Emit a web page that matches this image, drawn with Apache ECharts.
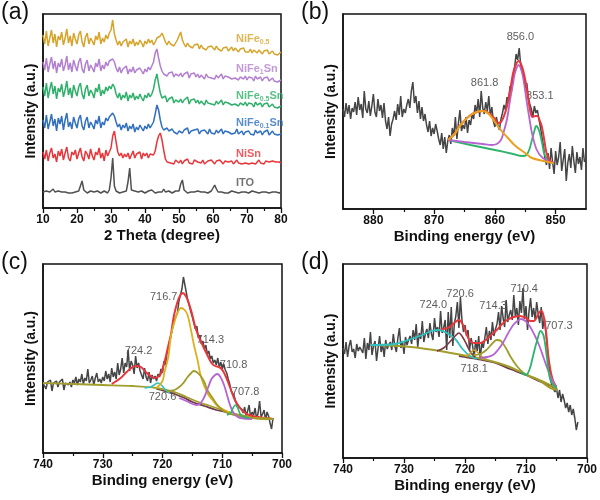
<!DOCTYPE html>
<html>
<head>
<meta charset="utf-8">
<script src="https://cdn.jsdelivr.net/npm/echarts@6/dist/echarts.min.js"></script>
<style>html,body{margin:0;background:#fff}#main{width:600px;height:500px}</style>
</head>
<body>
<div id="main"></div>
<script>
// ---------- (a) XRD, 2 theta from 10 to 80, step 0.5 ----------
var xrdStart = 10, xrdStep = 0.5;
var xrdITO = [16,15,17,15,16,17,19,16,15,17, 15,16,14,16,17,15,16,15,17,16, 15,17,19,27,18,16,15,16,17,15,
  16,15,17,16,15,16,17,16,15,18, 30,50,22,17,16,15,17,16,16,17, 26,40,18,16,17,19,16,15,17,16,
  15,16,17,16,18,16,15,17,16,17, 16,19,16,15,17,16,15,16,17,16, 17,24,28,18,16,15,17,16,15,16,
  16,17,18,16,15,16,17,15,16,17, 18,23,19,16,15,16,17,15,16,15, 16,17,15,16,16,15,17,16,15,16,
  16,15,16,17,15,16,16,15,17,16, 15,16,17,15,16,16,15,16,17,15, 16];
var xrdNiSn = [56,49,58,47,55,60,50,54,46,57, 52,59,48,55,61,50,47,56,53,58, 49,55,60,51,47,57,54,49,59,52,
  48,56,53,60,50,55,47,58,52,56, 60,72,77,66,56,52,55,50,54,51, 55,49,53,57,50,54,52,56,49,55,
  52,55,50,54,56,53,57,66,72,75, 68,58,49,46,48,45,47,44,48,46, 45,48,44,47,46,49,45,47,44,48,
  49,46,47,45,48,44,46,47,45,48, 46,44,47,45,48,46,44,47,49,46, 45,47,44,46,48,45,47,44,46,45,
  47,44,46,45,47,44,46,48,45,46, 44,47,45,46,44,47,45,46,44,46, 45];
var xrdFe01 = [88,80,93,79,86,94,82,89,77,90, 84,92,78,88,95,81,86,79,91,85, 80,89,93,82,78,87,91,80,86,83,
  79,88,84,92,80,86,83,90,87,91, 89,95,92,86,81,84,78,83,80,85, 77,82,79,84,76,81,78,83,80,77,
  82,79,84,80,83,86,94,103,98,88, 81,78,76,80,77,75,79,76,78,74, 77,79,75,78,76,80,74,77,75,78,
  76,79,74,77,75,78,76,74,79,75, 77,74,78,75,76,79,74,77,75,76, 78,74,76,75,79,74,76,77,73,76,
  75,77,74,76,73,78,75,74,77,73, 76,74,78,73,75,77,74,76,73,75, 74];
var xrdFe05Sn = [121,112,125,110,119,126,114,122,109,120, 116,124,111,118,127,113,120,110,123,117,
  112,121,125,114,109,119,123,112,118,115, 110,120,116,124,112,118,114,121,117,122,
  119,124,121,114,110,115,108,113,110,116, 107,113,110,115,108,112,109,114,110,107,
  113,110,115,111,114,119,128,134,124,115, 110,108,112,106,109,107,111,105,108,110,
  106,109,105,108,107,111,104,108,106,109, 105,108,104,107,106,103,108,105,107,104,
  106,103,107,104,105,108,103,106,104,105, 107,103,105,104,106,102,105,104,103,106,
  102,105,103,104,101,106,103,102,105,101, 104,102,105,101,103,104,101,103,100,102, 102];
var xrdFe1Sn = [146,138,150,136,144,151,139,147,135,145, 141,149,137,143,152,138,145,136,148,142,
  137,146,150,139,135,144,148,137,143,140, 136,145,141,149,137,143,139,146,142,147,
  145,149,146,140,136,141,135,139,137,142, 134,139,136,141,135,138,136,140,137,134,
  139,136,141,138,140,146,155,159,150,142, 137,134,136,132,135,133,136,131,134,135,
  132,135,131,134,133,136,130,134,132,135, 131,134,130,133,132,129,134,131,133,130,
  132,129,133,130,131,134,129,132,130,131, 133,129,131,130,132,128,131,130,129,132,
  128,131,129,130,127,132,129,128,131,127, 130,128,131,127,129,130,127,129,126,128, 128];
var xrdFe05 = [173,164,177,162,170,178,165,174,161,172, 168,176,163,170,179,165,172,162,175,169,
  164,173,177,166,161,171,175,164,170,167, 163,172,168,176,164,170,166,173,169,175,
  178,188,174,168,163,167,162,166,164,169, 161,167,164,169,162,166,163,168,165,161,
  167,164,169,165,168,163,166,170,168,172, 175,171,166,163,167,164,166,162,165,168,
  170,176,168,164,161,165,162,164,160,163, 161,164,159,163,160,162,158,161,159,162,
  160,158,162,159,161,157,160,158,161,157, 159,161,157,160,158,156,159,157,160,156,
  158,156,159,155,158,157,155,158,156,154, 157,155,158,154,156,157,154,156,153,155, 156];
var xrdNames = ['ITO', 'NiSn', 'NiFe{s|0.1}Sn', 'NiFe{s|0.5}Sn', 'NiFe{s|1}Sn', 'NiFe{s|0.5}'];
var xrdLabelPos = [[66.6, 25], [66.6, 54], [66.6, 85], [66.6, 112], [66.6, 139], [66.6, 169]];

// ---------- (b) Ni 2p, from 885 down to 845, step 0.25 ----------
var niStart = 885, niStep = -0.25;
var niRaw = [100,92,106,95,104,90,101,97,107, 94,112,99,105,91,118,100,96,
  108,93,103,115,97,92,110,98,104,91,106, 88,80,92,73,85,90, 98,89,105,94,113,92,100,96,104,
  110,101,118,127,106,113, 96,108,90,102,88,95, 84,77,88,73,81,75,85,78, 70,64,76,60,72,56,68,74,
  65,81,73,92,70,86,99,78,84, 80,92,76,89,84,95, 90,104,96,110,92,118,101,95,107,98,113,93,102,
  88,82,92,84,79,90, 96,104,99,112,108,123,118, 131,142,155,149,161,144,138, 132,121,126,112,105,
  100,92,103,96,99,90, 82,72,63,50,44,
  56,40,61,47,35,58,44,52,67,38,49,60,28,46,55,41,63,48,36,57,45,52,39,61,47,50];
var niFitSum = [[867.7,69],[866.5,76],[865.8,83],[864.2,93],[863,97],[861.8,98],[861,96],[860,90],[859.5,86],
  [859,87],[858.5,93],[858,103],[857.5,118],[857,136],[856.5,145],[856.1,148],[855.7,145],[855.2,135],
  [854.7,118],[854.2,99],[853.8,92],[853.3,93],[853,93],[852.6,88],[852.3,83],[851.9,70],[851.5,56],[851,49],[850.4,46]];
var niFit8618 = [[867.7,69],[866.5,76],[865.8,83],[864.2,93],[863,97],[862.1,98],[861,95],[859.3,81],[858,72],
  [856.6,63],[855,56],[853.9,51],[852,48],[850.4,46]];
var niFit8560 = [[867.7,69],[865,67],[862,65],[860.5,64],[859.7,65],[859,69],[858.6,76],[858,90],[857.5,109],
  [857,126],[856.7,136],[856.1,144],[855.6,138],[855.2,126],[854.8,109],[854.3,90],[853.9,76],[853.1,59],[852.1,51],[850.4,46]];
var niFit8531 = [[867.7,69],[864,64],[860,59],[857,55],[855.5,53],[854.8,54],[854.3,60],[853.9,69],[853.5,78],
  [853.2,83],[852.9,81],[852.6,76],[852.2,65],[851.8,54],[851,48],[850.4,46]];
var niPeakLabels = [['856.0', 855.8, 172], ['861.8', 861.7, 126], ['853.1', 852.6, 113]];

// ---------- (c) Fe 2p, from 740 down to 701.5, step 0.25 ----------
var fecStart = 740, fecStep = -0.25;
var fecRaw = [70,72,64,71,69,73,62,70,68,72,66,71,69,74,63,70,72,68,71,66,
  73,70,76,68,74,71,79,69,75,72,84,70,73,77,68,75,80,71,74,70,
  76,72,82,74,79,71,85,76,81,74,90,78, 84,95,80,90,86,103,82,92,88,79,97,85,90,82,
  80,74,85,76,72,81,70,78,74,77,72,79, 76,84,80,92,88,100,106,113, 120,127,133,131,140,
  152,158,164,176,168,160, 152,147,141,136, 130,124,127,115,118,109, 112,104,108,99,102,94,97,90,
  93,88,95,86,91,84,89,83, 80,74,69,62,60, 57,51,53,46,48,
  44,40,46,37,42,48,35,41,38,45,34,40,52,36,39,43,33,41,37, 30,24,35];
var fecBase = [[740,70],[735,69],[730,68],[725,67],[721,65],[718,61],[716,56],[714,51],[712,47],[710,43],[708,39],[705,36],[701.5,34]];
var fecShirley = [[721,64],[719.7,62],[718,59],[716.3,55],[715,51],[713,47],[711,43],[710,42],[708,39],[706.6,37],[704,35],[701.5,34]];
var fecFit7206 = [[723,65],[722,66],[721.4,68],[720.8,70],[720.2,68],[719.5,63],[718.8,60]];
var fecFit7167 = [[721,65],[720,72],[719.7,80],[719,97],[718.6,117],[718,131],[717.5,140],[716.9,145],[716.3,143],
  [715.8,138],[715.2,122],[714.7,107],[714.1,92],[713.6,77],[712.5,60],[711.5,52],[710.8,47],[709,41],[708,38],[705,35],[701.5,34]];
var fecFit7143 = [[719.2,62],[718,63],[717.2,66],[716.5,70],[715.8,76],[715.2,80],[714.8,82],[714.3,81],[713.6,77],
  [713,71],[712.5,63],[711.5,54],[710.8,48],[709.5,41],[708,38],[705,35],[701.5,34]];
var fecFit7108 = [[717.2,55],[716,52],[715,49],[714.3,48],[713.6,50],[713,56],[712.4,65],[711.8,74],[711.2,78],
  [710.8,79],[710.3,76],[709.7,68],[709.2,58],[708.7,48],[708.2,41],[707.6,37],[707,35],[705,34]];
var fecFit7078 = [[709.2,38],[708.6,40],[708.2,45],[707.8,48],[707.4,45],[707,39],[706.4,36],[705.5,35]];
var fecFitSum = [[728.5,69],[727,75],[726,81],[725,86],[724.3,87],[723.6,86],[722.8,81],[722,77],[721.4,75],[720.8,76],
  [720.3,79],[719.7,90],[719,108],[718.6,118],[718.1,137],[717.5,151],[717,158],[716.6,160],[716.1,157],[715.6,150],
  [715.1,140],[714.6,128],[714,117],[713.3,108],[712.5,98],[711.8,90],[711.2,87],[710.6,86],[710.1,84],[709.6,79],
  [709.1,72],[708.6,64],[708.1,56],[707.6,50],[707,45],[706.4,41],[705.5,38],[704,36],[701.5,34]];
var fecPeakLabels = [['716.7', 719.8, 156], ['714.3', 712.0, 113], ['724.2', 724.0, 102],
  ['710.8', 708.1, 88], ['720.6', 720.0, 56], ['707.8', 706.1, 61]];

// ---------- (d) Fe 2p, from 740 down to 701.5, step 0.25 ----------
var fedStart = 740, fedStep = -0.25;
var fedRaw = [110,104,116,101,112,118,106,109,100,114,107,111,
  113,105,120,99,115,108,126,103,112,117,97,110,122,106,114,101,118,109,113,
  116,108,124,112,106,120,130,110,117,104,121,113,118, 122,114,128,118,134,111,125,119,137,116,124,
  129,120,135,124,118,140,126,131,121,147,125,130, 138,108,146,120,151,112,134, 142,156,130,161,138,126,133,
  122,128,108,120, 112,101,118,107,122,98,116,110, 120,131,114,127,118,136,122,129,
  134,146,128,152,140,131,158,136,143,148, 138,163,142,150,133,157,145,170,139,152,128,147,160,141,
  150,138,156,144,135,151,129,140, 126,110,92,80,72, 74,66,70,60,68,56,64, 58,50,55,46,53,43,49, 40,28,36];
var fedBase = [[735.5,113],[730.6,112],[725.1,108],[719.7,102],[716.4,98],[713.1,92],[709.8,83],[707.7,77],[706,70],[704.9,68]];
var fedShirley = [[721,102],[718,99],[715,95],[712.6,89],[710,83],[707.5,76],[705,70]];
var fedFit7240 = [[735.5,113],[731.5,114],[729.3,118],[727,123],[725.5,127],[724.3,128],[723,125],[721.6,119],
  [720.4,109],[719.2,102],[718,99]];
var fedFit7206 = [[724.6,107],[723.5,110],[722.5,116],[721.6,122],[721,125],[720.4,121],[719.7,113],[719,105],[718.3,101]];
var fedFit7181 = [[720,102],[719.2,104],[718.6,108],[718,106],[717.2,101],[716.5,99]];
var fedFit7143 = [[718.6,103],[717.5,104],[716.5,108],[715.6,114],[714.8,118],[714.1,117],[713.3,110],[712.5,101],
  [711.5,92],[710.4,85],[709.5,82],[708.5,80],[707,76],[705.5,71],[704.9,68]];
var fedFit7104 = [[717.5,100],[716.4,101],[715.4,103],[714.6,108],[713.8,115],[713,124],[712.1,133],[711.4,137],
  [710.8,139],[710.1,137],[709.4,132],[708.6,123],[707.8,112],[707.1,100],[706.4,88],[705.7,78],[705,70]];
var fedFit7073 = [[710.8,86],[710,83],[709.4,89],[709,98],[708.6,108],[708.2,117],[707.6,127],[707.1,122],
  [706.6,102],[706,78],[705,70]];
var fedFitSum = [[724.3,128],[723.5,129],[722.5,131],[721.6,136],[721,138],[720.4,134],[719.8,125],[719.2,117],
  [718.5,115],[717.5,115],[716.6,118],[715.9,122],[714.8,128],[713.9,134],[713.1,138],[712,141],[711,142],[710,140],
  [709.3,137],[708.7,137],[708.3,140],[707.9,145],[707.5,147],[707.2,144],[706.9,135],[706.6,120],[706.4,105],
  [706,88],[705.6,78],[705,71]];
var fedPeakLabels = [['724.0', 725.2, 153], ['720.6', 720.8, 164], ['714.3', 715.4, 152],
  ['710.4', 710.3, 169], ['707.3', 704.6, 132], ['718.1', 718.5, 89]];

// ---------- helpers ----------
var FONT = 'Liberation Sans, Arial, sans-serif';
function toPairs(start, step, ys) {
    return ys.map(function (y, i) { return [+(start + step * i).toFixed(2), y]; });
}
function line(data, color, width, idx, smooth) {
    return {
        type: 'line', data: data, xAxisIndex: idx, yAxisIndex: idx,
        symbol: 'none', smooth: smooth ? 0.35 : false, silent: true,
        lineStyle: { color: color, width: width }
    };
}
function peakLabels(list, idx) {
    return {
        type: 'scatter', xAxisIndex: idx, yAxisIndex: idx, symbolSize: 1, silent: true,
        itemStyle: { color: 'rgba(0,0,0,0)' },
        label: { show: true, position: 'inside', color: '#333', fontSize: 11, fontFamily: FONT, formatter: '{b}' },
        data: list.map(function (p) { return { name: p[0], value: [p[1], p[2]] }; })
    };
}
function xAx(idx, min, max, inverse, name) {
    return {
        gridIndex: idx, type: 'value', min: min, max: max, interval: 10, inverse: inverse,
        name: name, nameLocation: 'middle', nameGap: 20,
        nameTextStyle: { fontSize: 15, fontWeight: 'bold', color: '#111', fontFamily: FONT },
        axisLine: { show: true, lineStyle: { color: '#111', width: 1.5 } },
        axisTick: { show: true, length: 5, lineStyle: { color: '#111', width: 1.3 } },
        minorTick: { show: true, splitNumber: 2, length: 3, lineStyle: { color: '#111', width: 1.2 } },
        axisLabel: { color: '#111', fontSize: 12, fontWeight: 'bold', fontFamily: FONT, margin: 6 },
        splitLine: { show: false }
    };
}
function yAx(idx, max) {
    return {
        gridIndex: idx, type: 'value', min: 0, max: max,
        name: 'Intensity (a.u.)', nameLocation: 'middle', nameGap: 5,
        nameTextStyle: { fontSize: 14, fontWeight: 'bold', color: '#111', fontFamily: FONT },
        axisLine: { show: true, lineStyle: { color: '#111', width: 1.5 } },
        axisTick: { show: false }, axisLabel: { show: false }, splitLine: { show: false }
    };
}

var gridStyle = { show: true, borderColor: '#111', borderWidth: 1.5, backgroundColor: '#fff' };
var grids = [
    Object.assign({ left: 43, top: 14, width: 238, height: 194 }, gridStyle),
    Object.assign({ left: 343, top: 14, width: 243, height: 195 }, gridStyle),
    Object.assign({ left: 43, top: 264, width: 239, height: 189 }, gridStyle),
    Object.assign({ left: 343, top: 264, width: 244, height: 194 }, gridStyle)
];

var xAxes = [
    xAx(0, 10, 80, false, '2 Theta (degree)'),
    xAx(1, 845, 885, true, 'Binding energy (eV)'),
    xAx(2, 700, 740, true, 'Binding energy (eV)'),
    xAx(3, 700, 740, true, 'Binding energy (eV)')
];
// (b) range does not start on a multiple of 10: use custom ticks
xAxes[1].interval = 5;
xAxes[1].minorTick = { show: false };
xAxes[1].axisLabel.customValues = [850, 860, 870, 880];
xAxes[1].axisTick.customValues = [850, 860, 870, 880];
xAxes.push({
    gridIndex: 1, type: 'value', min: 845, max: 885, inverse: true, position: 'bottom',
    axisLine: { show: false }, axisLabel: { show: false }, splitLine: { show: false },
    axisTick: { show: true, length: 3, customValues: [855, 865, 875], lineStyle: { color: '#111', width: 1.2 } }
});

var yAxes = [yAx(0, 194), yAx(1, 195), yAx(2, 189), yAx(3, 194)];

var xrdColors = ['#505050', '#E8363B', '#3170BE', '#2FB06A', '#B37FCF', '#D6A42A'];
var xrdSets = [xrdITO, xrdNiSn, xrdFe01, xrdFe05Sn, xrdFe1Sn, xrdFe05];

var series = [];
xrdSets.forEach(function (ys, i) {
    series.push(line(toPairs(xrdStart, xrdStep, ys), xrdColors[i], 1.5, 0, false));
});
series.push({
    type: 'scatter', xAxisIndex: 0, yAxisIndex: 0, symbolSize: 1, silent: true,
    itemStyle: { color: 'rgba(0,0,0,0)' },
    data: xrdNames.map(function (n, i) {
        return {
            name: n, value: xrdLabelPos[i],
            label: {
                show: true, position: 'right', distance: 0, formatter: n,
                color: xrdColors[i], fontSize: 11, fontWeight: 'bold', fontFamily: FONT,
                rich: { s: { fontSize: 7, fontWeight: 'bold', color: xrdColors[i], fontFamily: FONT, padding: [6, 0, 0, 0] } }
            }
        };
    })
});

// (b)
series.push(line(toPairs(niStart, niStep, niRaw), '#454545', 1.5, 1, false));
series.push(line(niFit8531, '#2DB36A', 1.8, 1, true));
series.push(line(niFit8560, '#B565CF', 1.8, 1, true));
series.push(line(niFitSum, '#E8363B', 2, 1, true));
series.push(line(niFit8618, '#E9A21F', 2, 1, true));
series.push(peakLabels(niPeakLabels, 1));

// (c)
series.push(line(toPairs(fecStart, fecStep, fecRaw), '#454545', 1.5, 2, false));
series.push(line(fecShirley, '#6E3A4C', 1.8, 2, true));
series.push(line(fecBase, '#A19E2C', 1.8, 2, true));
series.push(line(fecFitSum, '#E8363B', 2, 2, true));
series.push(line(fecFit7206, '#2EC2C2', 1.6, 2, true));
series.push(line(fecFit7167, '#DDB020', 1.8, 2, true));
series.push(line(fecFit7143, '#A09C2A', 1.8, 2, true));
series.push(line(fecFit7108, '#B565CF', 1.8, 2, true));
series.push(line(fecFit7078, '#2DB36A', 1.6, 2, true));
series.push(peakLabels(fecPeakLabels, 2));

// (d)
series.push(line(toPairs(fedStart, fedStep, fedRaw), '#454545', 1.5, 3, false));
series.push(line(fedShirley, '#6E3A4C', 1.8, 3, true));
series.push(line(fedBase, '#A19E2C', 2, 3, true));
series.push(line(fedFitSum, '#E8363B', 2, 3, true));
series.push(line(fedFit7240, '#2EC2C2', 1.8, 3, true));
series.push(line(fedFit7206, '#7A3A44', 1.6, 3, true));
series.push(line(fedFit7181, '#C9A526', 1.6, 3, true));
series.push(line(fedFit7143, '#A09C2A', 1.8, 3, true));
series.push(line(fedFit7104, '#B565CF', 1.8, 3, true));
series.push(line(fedFit7073, '#2DB36A', 1.8, 3, true));
series.push(peakLabels(fedPeakLabels, 3));

var panelText = function (t, x, y) {
    return { type: 'text', left: x, top: y, style: { text: t, fontSize: 23, fill: '#111', fontFamily: FONT } };
};

var chart = echarts.init(document.getElementById('main'));
chart.setOption({
    animation: false,
    backgroundColor: '#fff',
    grid: grids,
    xAxis: xAxes,
    yAxis: yAxes,
    series: series,
    graphic: [panelText('(a)', 1, 1), panelText('(b)', 301, 1), panelText('(c)', 1, 251), panelText('(d)', 301, 251)]
});
</script>
</body>
</html>
